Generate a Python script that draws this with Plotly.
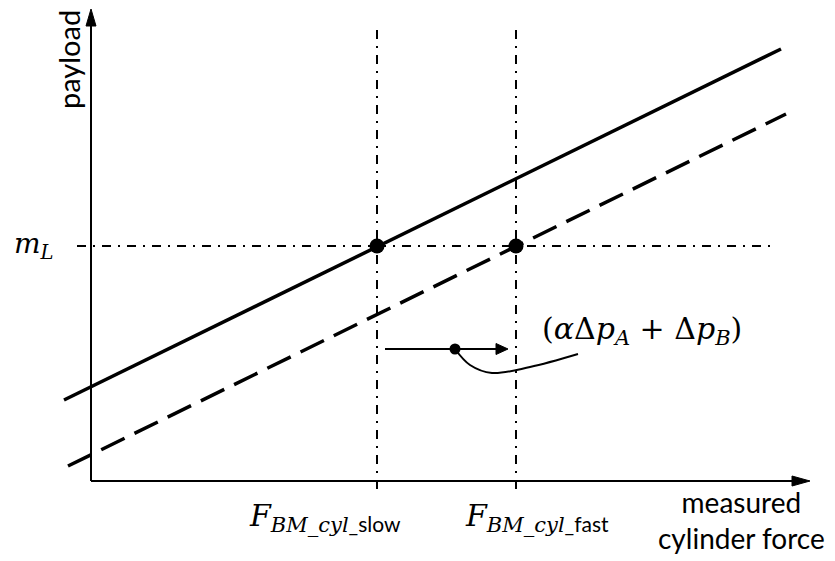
import plotly.graph_objects as go

# Data (force/payload in arbitrary units, origin at the axes crossing)
force_slow = 286
force_fast = 425
payload_mL = 235

solid_force = [-27, 690]
solid_payload = [81, 432]
dashed_force = [-23, 695]
dashed_payload = [15, 367]

ml_force = [-14, 684]
vert_payload = [451, -9]

x_axis_force = [0, 719]
y_axis_payload = [0, 472]

shift_force = [294, 417]
shift_payload = 132
shift_dot_force = 364

curve_force = [364, 379, 401, 439, 487]
curve_payload = [132, 116, 108, 114, 127]

BLACK = "black"
fig = go.Figure()

def line(x, y, width=2, dash="solid", shape="linear"):
    fig.add_trace(go.Scatter(x=x, y=y, mode="lines",
                             line=dict(color=BLACK, width=width, dash=dash, shape=shape),
                             hoverinfo="skip", showlegend=False))

def head(x, y):
    fig.add_trace(go.Scatter(x=x, y=y, mode="lines", fill="toself", fillcolor=BLACK,
                             line=dict(color=BLACK, width=1), hoverinfo="skip", showlegend=False))

# reference lines
line(ml_force, [payload_mL, payload_mL], 2, "9px,7px,2px,7px")
line([force_slow, force_slow], vert_payload, 2, "9px,7px,2px,7px")
line([force_fast, force_fast], vert_payload, 2, "9px,7px,2px,7px")

# axes
xa_len, ya_len = 18, 17
line([x_axis_force[0], x_axis_force[1] - xa_len], [0, 0], 2)
line([0, 0], [y_axis_payload[0], y_axis_payload[1] - ya_len], 2)
head([x_axis_force[1], x_axis_force[1] - xa_len, x_axis_force[1] - xa_len, x_axis_force[1]],
     [0, 5, -5, 0])
head([0, -5, 5, 0],
     [y_axis_payload[1], y_axis_payload[1] - ya_len, y_axis_payload[1] - ya_len, y_axis_payload[1]])

# characteristic lines
line(solid_force, solid_payload, 3.5)
line(dashed_force, dashed_payload, 3.5, "26px,11px")

# shift arrow
sh_len = 12
line([shift_force[0], shift_force[1] - sh_len], [shift_payload, shift_payload], 2)
head([shift_force[1], shift_force[1] - sh_len, shift_force[1] - sh_len, shift_force[1]],
     [shift_payload, shift_payload + 5.5, shift_payload - 5.5, shift_payload])
line(curve_force, curve_payload, 2, shape="spline")
fig.add_trace(go.Scatter(x=[shift_dot_force], y=[shift_payload], mode="markers",
                         marker=dict(color=BLACK, size=11), hoverinfo="skip", showlegend=False))

# intersection points
fig.add_trace(go.Scatter(x=[force_slow, force_fast], y=[payload_mL, payload_mL], mode="markers",
                         marker=dict(color=BLACK, size=15), hoverinfo="skip", showlegend=False))

serif = "DejaVu Serif"
sans = "Lato"
ann = []
ann.append(dict(x=-23, y=421, text="payload", textangle=-90,
                font=dict(family=sans, size=29, color=BLACK)))
ann.append(dict(x=-57, y=236, text="<i>m</i><sub><i>L</i></sub>",
                font=dict(family=serif, size=28, color=BLACK)))
ann.append(dict(x=234, y=-36,
                text="<i>F</i><sub><i>BM_cyl</i><span style='font-family:Lato'>_slow</span></sub>",
                font=dict(family=serif, size=30, color=BLACK)))
ann.append(dict(x=446, y=-36,
                text="<i>F</i><sub><i>BM_cyl</i><span style='font-family:Lato'>_fast</span></sub>",
                font=dict(family=serif, size=30, color=BLACK)))
ann.append(dict(x=551, y=151,
                text="(<i>α</i>Δ<i>p</i><sub><i>A</i></sub> + Δ<i>p</i><sub><i>B</i></sub>)",
                font=dict(family=serif, size=30, color=BLACK)))
ann.append(dict(x=650, y=-39, text="measured<br>cylinder force",
                font=dict(family=sans, size=28, color=BLACK)))
for a in ann:
    a.update(xref="x", yref="y", showarrow=False, xanchor="center", yanchor="middle")

fig.update_layout(
    width=835, height=561, margin=dict(l=0, r=0, t=0, b=0),
    paper_bgcolor="white", plot_bgcolor="white",
    xaxis=dict(range=[-91, 744], visible=False, fixedrange=True),
    yaxis=dict(range=[-80, 481], visible=False, fixedrange=True),
    annotations=ann, showlegend=False, hovermode=False,
)
fig.write_html("out.html", config={"displayModeBar": False},
               post_script="document.body.style.margin='0';document.body.style.overflow='hidden';")
